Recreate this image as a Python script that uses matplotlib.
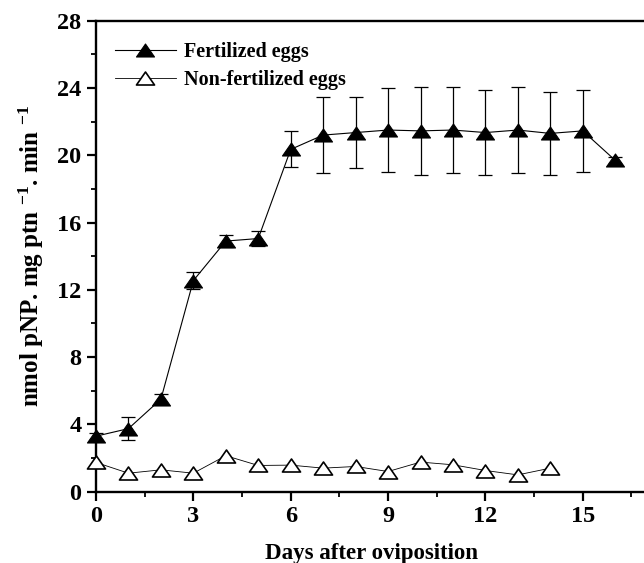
import matplotlib
matplotlib.use("Agg")
import matplotlib.pyplot as plt
from matplotlib.ticker import MultipleLocator
from matplotlib.path import Path

days_fert = [0, 1, 2, 3, 4, 5, 6, 7, 8, 9, 10, 11, 12, 13, 14, 15, 16]
fert = [3.3, 3.75, 5.5, 12.55, 14.9, 15.05, 20.35, 21.2, 21.35, 21.5, 21.45, 21.5, 21.35, 21.5, 21.3, 21.45, 19.7]
fert_err = [0.2, 0.7, 0.3, 0.5, 0.35, 0.43, 1.07, 2.24, 2.1, 2.5, 2.6, 2.56, 2.54, 2.55, 2.45, 2.45, 0.2]

days_non = [0, 1, 2, 3, 4, 5, 6, 7, 8, 9, 10, 11, 12, 13, 14]
nonfert = [1.74, 1.1, 1.3, 1.1, 2.14, 1.56, 1.58, 1.4, 1.5, 1.2, 1.76, 1.6, 1.26, 1.0, 1.4]

x_ticks = [0, 3, 6, 9, 12, 15]
y_ticks = [0, 4, 8, 12, 16, 20, 24, 28]

plt.rcParams['font.family'] = ['Liberation Serif', 'DejaVu Serif']
plt.rcParams['font.weight'] = 'bold'
plt.rcParams['mathtext.fontset'] = 'custom'
plt.rcParams['mathtext.rm'] = 'Liberation Serif:bold'
plt.rcParams['mathtext.bf'] = 'Liberation Serif:bold'
plt.rcParams['mathtext.it'] = 'Liberation Serif:bold'

# wide, slightly flattened triangle like the reference
tri = Path([(0, 0.72), (-1, -0.72), (1, -0.72), (0, 0.72)],
           [Path.MOVETO, Path.LINETO, Path.LINETO, Path.CLOSEPOLY])

W, H = 644, 563
fig = plt.figure(figsize=(W / 100, H / 100), dpi=100)
x0 = 96
px_per_day = 32.45
ax = fig.add_axes([x0 / W, (H - 491.7) / H, 17 * px_per_day / W, (491.7 - 20.7) / H])

ax.errorbar(days_fert, fert, yerr=fert_err, fmt='none', ecolor='black',
            elinewidth=0.9, capsize=5, capthick=0.9, clip_on=False, zorder=2)
ax.plot(days_fert, fert, color='black', lw=0.8, marker=tri, ms=13,
        mfc='black', mec='black', mew=0.8, clip_on=False, zorder=3, label='Fertilized eggs')
ax.plot(days_non, nonfert, color='black', lw=0.6, marker=tri, ms=13,
        mfc='white', mec='black', mew=1.2, clip_on=False, zorder=3, label='Non-fertilized eggs')

ax.set_xlim(0, 17)
ax.set_ylim(0, 28)
ax.set_xticks(x_ticks)
ax.set_yticks(y_ticks)
ax.xaxis.set_minor_locator(MultipleLocator(1.5))
ax.yaxis.set_minor_locator(MultipleLocator(2))
ax.tick_params(axis='both', which='major', direction='out', length=6.5, width=1.6,
               labelsize=17.5, pad=4)
ax.tick_params(axis='both', which='minor', direction='out', length=3.5, width=1.3)
for lab in ax.get_xticklabels() + ax.get_yticklabels():
    lab.set_fontweight('bold')

for side in ['left', 'bottom', 'top']:
    ax.spines[side].set_linewidth(1.7)
ax.spines['right'].set_visible(False)

ax.set_xlabel('Days after oviposition', fontsize=16.5, fontweight='bold', labelpad=11)
ax.set_ylabel(r'nmol pNP. mg ptn $^{-1}$. min $^{-1}$', fontsize=18, fontweight='bold', labelpad=8)

leg = ax.legend(loc='upper left', bbox_to_anchor=(0.02, 0.972), frameon=False,
                fontsize=14.5, handlelength=3.0, handletextpad=0.4, labelspacing=0.42,
                borderaxespad=0.0)
for t in leg.get_texts():
    t.set_fontweight('bold')

fig.savefig('out.png', dpi=100)
